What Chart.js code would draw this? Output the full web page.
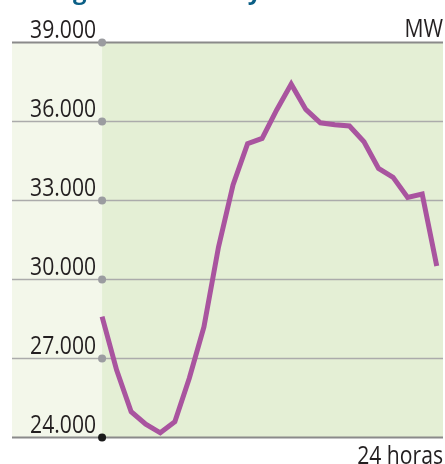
<!DOCTYPE html>
<html>
<head>
<meta charset="utf-8">
<script src="https://cdn.jsdelivr.net/npm/chart.js@4"></script>
<style>
  html, body { margin: 0; padding: 0; background: #fff; }
  #wrap { width: 445px; height: 464px; position: relative; }
</style>
</head>
<body>
<div id="wrap"><canvas id="loadChart" width="445" height="464"></canvas></div>
<script>
// Horas del día (0..23) y demanda en MW
const hours = [0, 1, 2, 3, 4, 5, 6, 7, 8, 9, 10, 11, 12, 13, 14, 15, 16, 17, 18, 19, 20, 21, 22, 23];
const demand = [28570, 26540, 24960, 24490, 24160, 24580, 26240, 28180, 31210, 33570, 35140, 35340,
                36420, 37400, 36440, 35930, 35860, 35810, 35210, 34200, 33860, 33100, 33230, 30490];
const yTicks = [24000, 27000, 30000, 33000, 36000, 39000];
const yLabels = ['24.000', '27.000', '30.000', '33.000', '36.000', '39.000'];
const unitLabel = 'MW';
const xLabel = '24 horas';
const titleText = 'Carga eléctrica hoy';

const FONT = '"Open Sans", "Noto Sans", sans-serif';

// Fondo, rejilla y puntos del eje
const backdrop = {
    id: 'backdrop',
    beforeDatasetsDraw(chart) {
        const { ctx, chartArea: a, scales: { x, y } } = chart;
        const x0 = x.getPixelForValue(0);
        ctx.save();
        ctx.fillStyle = '#f3f7ea';
        ctx.fillRect(a.left, a.top, x0 - a.left, a.bottom - a.top);
        ctx.fillStyle = '#e4efd5';
        ctx.fillRect(x0, a.top, a.right - x0, a.bottom - a.top);

        yTicks.forEach((v, i) => {
            const py = Math.round(y.getPixelForValue(v)) + 0.5;
            const edge = i === 0 || i === yTicks.length - 1;
            ctx.strokeStyle = edge ? '#8a8a8a' : '#ababab';
            ctx.lineWidth = edge ? 2 : 1.5;
            ctx.beginPath();
            ctx.moveTo(a.left, py);
            ctx.lineTo(a.right, py);
            ctx.stroke();
        });
        ctx.restore();
    },
    afterDatasetsDraw(chart) {
        const { ctx, scales: { x, y } } = chart;
        const x0 = x.getPixelForValue(0);
        ctx.save();
        yTicks.forEach((v, i) => {
            ctx.fillStyle = i === 0 ? '#1a1a1a' : '#9b9ca0';
            ctx.beginPath();
            ctx.arc(x0, y.getPixelForValue(v) + 0.5, 4, 0, Math.PI * 2);
            ctx.fill();
        });
        ctx.restore();
    },
    afterDraw(chart) {
        const { ctx, chartArea: a, scales: { x, y } } = chart;
        const x0 = x.getPixelForValue(0);
        ctx.save();
        ctx.font = '25px ' + FONT;
        const sx = 66 / ctx.measureText('36.000').width;
        ctx.fillStyle = '#231f20';
        ctx.textBaseline = 'alphabetic';

        function drawText(str, right, base) {
            ctx.save();
            ctx.translate(right, base);
            ctx.scale(sx, 1);
            ctx.textAlign = 'right';
            ctx.fillText(str, 0, 0);
            ctx.restore();
        }
        yLabels.forEach((lab, i) => {
            drawText(lab, x0 - 6, y.getPixelForValue(yTicks[i]) - 4);
        });
        drawText(unitLabel, a.right, y.getPixelForValue(39000) - 5);
        drawText(xLabel, a.right, 464);

        // titulo recortado arriba
        ctx.fillStyle = '#0b5f86';
        ctx.font = 'bold 24px ' + FONT;
        ctx.textAlign = 'left';
        ctx.fillText(titleText, 73 - ctx.measureText('Car').width, -1);
        ctx.restore();
    }
};

new Chart(document.getElementById('loadChart'), {
    type: 'line',
    data: {
        datasets: [{
            data: hours.map((h, i) => ({ x: h, y: demand[i] })),
            borderColor: '#a9549f',
            borderWidth: 5,
            borderJoinStyle: 'miter',
            borderCapStyle: 'butt',
            pointRadius: 0,
            tension: 0,
            fill: false
        }]
    },
    options: {
        responsive: false,
        animation: false,
        devicePixelRatio: 1,
        layout: { padding: { left: 12, right: 2, top: 42, bottom: 27 } },
        plugins: { legend: { display: false }, tooltip: { enabled: false } },
        scales: {
            x: { type: 'linear', display: false, min: -6.19, max: 23.43 },
            y: { display: false, min: 24000, max: 39000 }
        }
    },
    plugins: [backdrop]
});
</script>
</body>
</html>
